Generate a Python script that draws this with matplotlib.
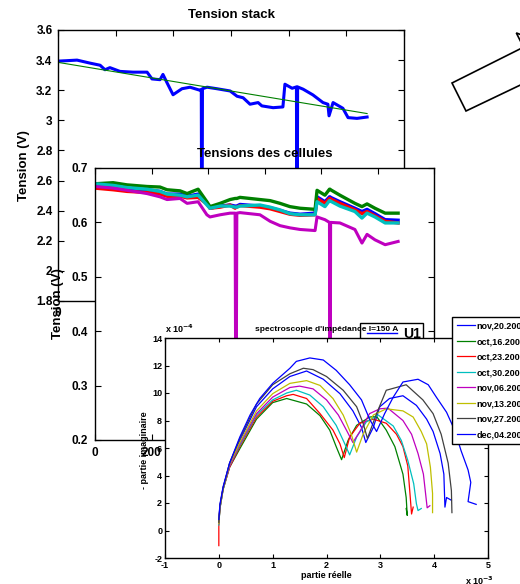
import matplotlib

matplotlib.use("Agg")
import matplotlib.pyplot as plt
from matplotlib.patches import Polygon, Rectangle
from matplotlib.lines import Line2D
from matplotlib.ticker import FormatStrFormatter

plt.rcParams.update(
    {
        "font.family": ["Liberation Sans", "DejaVu Sans"],
        "font.weight": "bold",
        "axes.titleweight": "bold",
        "axes.labelweight": "bold",
        "axes.linewidth": 1.0,
        "axes.unicode_minus": False,
        "xtick.direction": "in",
        "ytick.direction": "in",
    }
)

# --- stack voltage (V) vs time
stack_t = [0, 66, 111, 146, 163, 180, 215, 260, 309, 326, 354, 364, 378, 399, 430, 458,
           492, 497, 499, 501, 517, 551, 597, 621, 642, 666, 694, 707, 746, 780, 787,
           812, 827, 829, 831, 850, 884, 919, 936, 940, 954, 988, 1006, 1037, 1072]
stack_v = [3.393, 3.40, 3.38, 3.366, 3.336, 3.35, 3.325, 3.32, 3.32, 3.275, 3.27, 3.305,
           3.25, 3.17, 3.21, 3.22, 3.20, 3.205, 1.5, 3.21, 3.22, 3.21, 3.195, 3.16, 3.15,
           3.107, 3.118, 3.096, 3.084, 3.089, 3.24, 3.213, 3.222, 1.5, 3.222, 3.207, 3.169,
           3.118, 3.107, 3.03, 3.118, 3.08, 3.018, 3.013, 3.022]
fit_t = [0, 1072]
fit_v = [3.385, 3.045]

# --- cell voltages (V) vs time
cell_t = [0, 64, 113, 184, 230, 255, 301, 326, 365, 396, 407, 443, 478, 496, 499, 502,
          513, 584, 620, 655, 690, 726, 779, 786, 814, 830, 832, 834, 867, 920, 945, 963,
          991, 1027, 1073]
cell_blue = [.667, .667, .662, .660, .657, .652, .652, .648, .652, .636, .626, .630, .632,
             .630, .630, .630, .633, .630, .627, .622, .617, .615, .617, .647, .638, .647,
             .647, .646, .638, .626, .620, .624, .616, .605, .604]
cell_green = [.671, .673, .669, .666, .665, .660, .658, .653, .661, .638, .629, .635, .642,
              .644, .644, .644, .646, .642, .640, .635, .629, .626, .624, .659, .650, .661,
              .661, .660, .650, .635, .629, .634, .626, .617, .617]
cell_red = [.663, .660, .657, .655, .652, .648, .648, .645, .646, .634, .626, .628, .632,
            .626, .628, .628, .631, .628, .625, .620, .615, .613, .614, .644, .635, .644,
            .644, .643, .635, .623, .616, .620, .612, .602, .599]
cell_cyan = [.671, .668, .664, .661, .657, .652, .650, .647, .650, .632, .626, .630, .630,
             .628, .628, .628, .630, .632, .628, .623, .616, .614, .614, .638, .629, .640,
             .640, .639, .630, .620, .608, .617, .610, .599, .599]
cell_magenta = [.666, .663, .659, .653, .647, .642, .644, .635, .638, .614, .610, .614, .617,
                .617, 0.15, .617, .618, .614, .602, .594, .590, .587, .585, .610, .605, .600,
                0.15, .600, .599, .587, .562, .578, .568, .559, .565]

# --- impedance spectra: real part (x 1e-3), -imaginary part (x 1e-4)
nov20_re = [0.0, 0.02, 0.08, 0.2, 0.39, 0.7, 1.0, 1.32, 1.63, 1.94, 2.25, 2.49, 2.65, 2.73,
            2.87, 2.99, 3.17, 3.42, 3.67, 3.86, 3.98, 4.11, 4.18, 4.2, 4.23, 4.32]
nov20_im = [0.7, 1.8, 3.1, 4.9, 6.55, 9.0, 10.3, 11.2, 11.6, 11.0, 9.95, 8.7, 7.5, 6.4,
            7.5, 9.0, 9.6, 9.8, 9.1, 8.1, 7.2, 5.6, 4.1, 1.7, 2.4, 2.2]
oct16_re = [0.0, 0.02, 0.08, 0.2, 0.39, 0.7, 1.0, 1.26, 1.63, 1.88, 2.06, 2.18, 2.28, 2.4,
            2.56, 2.8, 2.93, 3.11, 3.27, 3.42, 3.48, 3.5, 3.48]
oct16_im = [0.5, 1.6, 3.0, 4.6, 5.95, 8.1, 9.3, 9.6, 9.2, 8.35, 7.3, 6.1, 5.15, 6.55, 7.65,
            8.25, 8.3, 7.3, 6.1, 4.1, 2.4, 1.1, 1.6]
oct23_re = [0.0, 0.0, 0.02, 0.08, 0.2, 0.39, 0.7, 1.0, 1.26, 1.38, 1.63, 1.88, 2.12, 2.25,
            2.33, 2.43, 2.62, 2.87, 3.11, 3.3, 3.42, 3.51, 3.56, 3.58, 3.61]
oct23_im = [-1.1, 0.5, 1.6, 3.0, 4.6, 6.1, 8.25, 9.4, 9.8, 9.9, 9.6, 8.5, 7.3, 6.3, 5.3,
            6.8, 7.8, 8.1, 7.8, 7.0, 6.1, 4.7, 2.2, 1.2, 1.7]
oct30_re = [0.0, 0.02, 0.08, 0.2, 0.39, 0.7, 1.0, 1.26, 1.44, 1.69, 1.94, 2.18, 2.34, 2.43,
            2.56, 2.74, 2.96, 3.24, 3.39, 3.51, 3.62, 3.67, 3.7, 3.76]
oct30_im = [0.4, 1.6, 3.0, 4.7, 6.2, 8.4, 9.5, 10.0, 10.2, 9.85, 9.0, 7.65, 6.3, 5.5, 6.8,
            7.9, 8.4, 7.6, 6.55, 5.1, 3.4, 1.95, 1.45, 1.6]
nov06_re = [0.0, 0.02, 0.08, 0.2, 0.39, 0.7, 1.0, 1.32, 1.5, 1.75, 2.0, 2.22, 2.37, 2.49,
            2.62, 2.8, 2.99, 3.14, 3.42, 3.58, 3.7, 3.8, 3.84, 3.87, 3.92]
nov06_im = [0.5, 1.7, 3.1, 4.7, 6.3, 8.5, 9.7, 10.4, 10.5, 10.3, 9.5, 8.4, 7.3, 6.4, 7.2,
            8.5, 8.85, 8.9, 8.0, 7.0, 5.6, 4.1, 2.7, 1.65, 1.8]
nov13_re = [0.0, 0.02, 0.08, 0.2, 0.39, 0.7, 1.0, 1.32, 1.63, 1.88, 2.12, 2.31, 2.46, 2.56,
            2.68, 2.87, 3.11, 3.42, 3.61, 3.76, 3.86, 3.93, 3.97, 3.97]
nov13_im = [0.5, 1.7, 3.1, 4.8, 6.4, 8.7, 9.95, 10.7, 10.9, 10.55, 9.6, 8.4, 7.0, 5.7, 7.0,
            8.4, 8.85, 8.7, 8.25, 7.2, 6.3, 4.6, 2.7, 1.3]
nov27_re = [0.0, 0.02, 0.08, 0.2, 0.39, 0.7, 1.0, 1.32, 1.57, 1.75, 2.0, 2.31, 2.56, 2.68,
            2.76, 2.93, 3.11, 3.48, 3.79, 3.98, 4.13, 4.26, 4.32, 4.33]
nov27_im = [0.6, 1.8, 3.1, 4.9, 6.7, 9.2, 10.6, 11.4, 11.8, 11.7, 11.2, 10.2, 9.0, 7.8, 6.7,
            8.5, 10.2, 10.6, 9.5, 8.5, 7.0, 4.9, 2.9, 1.3]
dec04_re = [0.0, 0.02, 0.08, 0.2, 0.39, 0.58, 0.76, 1.0, 1.32, 1.44, 1.69, 1.94, 2.18, 2.43,
            2.65, 2.8, 2.93, 3.08, 3.24, 3.42, 3.7, 3.89, 4.04, 4.23, 4.38, 4.5, 4.63, 4.68,
            4.63, 4.78]
dec04_im = [0.8, 1.9, 3.2, 4.9, 6.8, 8.4, 9.6, 10.7, 11.8, 12.3, 12.55, 12.4, 11.65, 10.6,
            9.5, 8.1, 7.2, 8.5, 9.7, 10.8, 11.0, 10.6, 9.7, 8.6, 7.3, 5.8, 4.4, 3.5, 2.1, 1.9]

spectra_labels = ["nov,20.2006", "oct,16.2006", "oct,23.2006", "oct,30.2006",
                  "nov,06.2006", "nov,13.2006", "nov,27.2006", "dec,04.2006"]

BLUE = (0, 0, 1)
GREEN = (0, 0.5, 0)
RED = (1, 0, 0)
CYAN = (0, 0.75, 0.75)
MAGENTA = (0.75, 0, 0.75)
YELLOW = (0.75, 0.75, 0)
GRAY = (0.25, 0.25, 0.25)

W, H = 520, 584


def px_rect(x0, y0, x1, y1):
    return [x0 / W, 1 - y1 / H, (x1 - x0) / W, (y1 - y0) / H]


def px(x, y):
    return (x / W, 1 - y / H)


fig = plt.figure(figsize=(5.2, 5.84), dpi=100)

# arrow decoration (top right)
arrow_px = [(452, 83), (523.5, 47.2), (516.3, 32.9), (560, 50), (545, 91.5),
            (537.6, 76.8), (466, 111)]
fig.add_artist(Polygon([px(x, y) for x, y in arrow_px], closed=True, transform=fig.transFigure,
                       facecolor="white", edgecolor="black", linewidth=1.2, zorder=1))

# --- top: stack voltage
ax1 = fig.add_axes(px_rect(58, 30, 404, 301), zorder=1)
ax1.plot(stack_t, stack_v, color=BLUE, linewidth=2.2)
ax1.plot(fit_t, fit_v, color=GREEN, linewidth=0.8)
ax1.set_xlim(0, 1200)
ax1.set_ylim(1.8, 3.6)
ax1.set_xticks(range(0, 1201, 200))
ax1.set_yticks([1.8, 2.0, 2.2, 2.4, 2.6, 2.8, 3.0, 3.2, 3.4, 3.6])
ax1.yaxis.set_major_formatter(FormatStrFormatter("%g"))
ax1.tick_params(top=True, right=True, length=4, labelsize=8.5, pad=4)
ax1.set_title("Tension stack", fontsize=9.5, pad=8.5)
ax1.set_ylabel("Tension (V)", fontsize=9.5)
ax1.yaxis.set_label_coords(-0.08, 0.5)

# --- middle: cell voltages
ax2 = fig.add_axes(px_rect(95, 168, 434, 440), zorder=2)
ax2.plot(cell_t, cell_blue, color=BLUE, linewidth=2.4)
ax2.plot(cell_t, cell_red, color=RED, linewidth=2.4)
ax2.plot(cell_t, cell_green, color=GREEN, linewidth=2.4)
ax2.plot(cell_t, cell_cyan, color=CYAN, linewidth=2.4)
ax2.plot(cell_t, cell_magenta, color=MAGENTA, linewidth=2.2)
ax2.set_xlim(0, 1200)
ax2.set_ylim(0.2, 0.7)
ax2.set_xticks(range(0, 1201, 200))
ax2.set_yticks([0.2, 0.3, 0.4, 0.5, 0.6, 0.7])
ax2.yaxis.set_major_formatter(FormatStrFormatter("%g"))
ax2.tick_params(top=True, right=True, length=4, labelsize=8.5, pad=5)
ax2.set_title("Tensions des cellules", fontsize=9.5, pad=8)
ax2.set_ylabel("Tension (V)", fontsize=9.5)
ax2.yaxis.set_label_coords(-0.09, 0.5)

# legend box of an underlying figure
fig.add_artist(Rectangle(px(360, 350), 63 / W, 27 / H, transform=fig.transFigure,
                         facecolor="white", edgecolor="black", linewidth=1.0, zorder=2.5))
fig.add_artist(Line2D([367 / W, 397 / W], [1 - 333 / H, 1 - 333 / H], transform=fig.transFigure,
                      color=BLUE, linewidth=1.0, zorder=2.6))
fig.text(403 / W, 1 - 334 / H, "U1", fontsize=10, va="center", ha="left", zorder=2.6)

# --- bottom: impedance spectroscopy
ax3 = fig.add_axes(px_rect(165, 338, 488, 558), zorder=3)
spectra = [
    (nov20_re, nov20_im, BLUE),
    (oct16_re, oct16_im, GREEN),
    (oct23_re, oct23_im, RED),
    (oct30_re, oct30_im, CYAN),
    (nov06_re, nov06_im, MAGENTA),
    (nov13_re, nov13_im, YELLOW),
    (nov27_re, nov27_im, GRAY),
    (dec04_re, dec04_im, BLUE),
]
for (re, im, color), label in zip(spectra, spectra_labels):
    ax3.plot(re, im, color=color, linewidth=0.9, label=label)
ax3.set_xlim(-1, 5)
ax3.set_ylim(-2, 14)
ax3.set_xticks(range(-1, 6))
ax3.set_yticks(range(-2, 15, 2))
ax3.tick_params(top=True, right=True, length=3, labelsize=6.5, pad=2)
ax3.set_title("spectroscopie d'impédance I=150 A", fontsize=6, pad=5)
ax3.set_xlabel("partie réelle", fontsize=6.5, labelpad=1)
ax3.set_ylabel("- partie imaginaire", fontsize=6.5)
ax3.yaxis.set_label_coords(-0.05, 0.49)
ax3.text(0.0, 1.015, r"x 10$^{-4}$", transform=ax3.transAxes, fontsize=6.5, va="bottom")
ax3.text(0.93, -0.075, r"x 10$^{-3}$", transform=ax3.transAxes, fontsize=6.5, va="top")
leg = ax3.legend(loc="upper left", bbox_to_anchor=px(452, 317), bbox_transform=fig.transFigure,
                 fontsize=6.5, frameon=True, fancybox=False, borderaxespad=0, handlelength=2.0,
                 handletextpad=0.25, labelspacing=0.72, borderpad=0.5)
leg.get_frame().set_edgecolor("black")
leg.get_frame().set_linewidth(1.0)
leg.get_frame().set_alpha(1)

fig.savefig("out.png", dpi=100)
